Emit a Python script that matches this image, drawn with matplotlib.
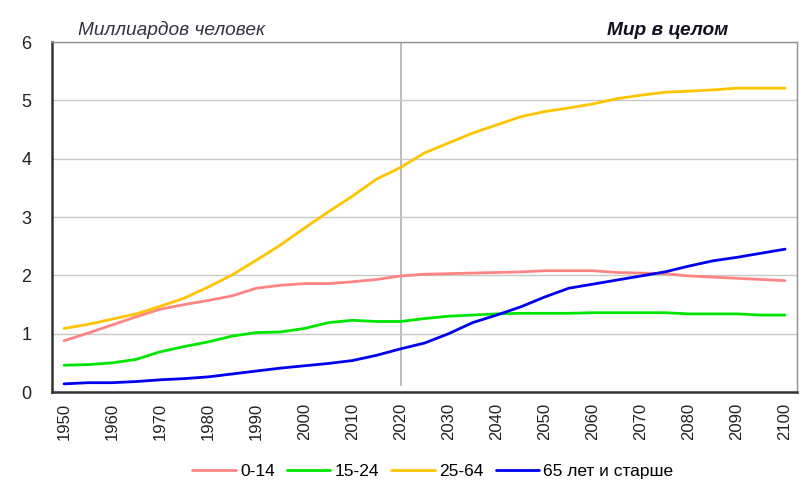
import numpy as np
import matplotlib.pyplot as plt

plt.rcParams['font.family'] = ['Liberation Sans', 'DejaVu Sans']

# ======================
# Data (billions of people)
# ======================
years = list(range(1950, 2101, 5))

age_0_14 = [0.88, 1.01, 1.15, 1.29, 1.42, 1.50, 1.57, 1.65, 1.78, 1.83,
            1.86, 1.86, 1.89, 1.93, 1.99, 2.02, 2.03, 2.04, 2.05, 2.06,
            2.08, 2.08, 2.08, 2.05, 2.04, 2.03, 1.99, 1.97, 1.95, 1.93, 1.91]
age_15_24 = [0.46, 0.47, 0.50, 0.56, 0.69, 0.78, 0.86, 0.96, 1.02, 1.03,
             1.09, 1.19, 1.23, 1.21, 1.21, 1.26, 1.30, 1.32, 1.34, 1.35,
             1.35, 1.35, 1.36, 1.36, 1.36, 1.36, 1.34, 1.34, 1.34, 1.32, 1.32]
age_25_64 = [1.09, 1.16, 1.25, 1.34, 1.47, 1.61, 1.80, 2.01, 2.26, 2.52,
             2.81, 3.09, 3.36, 3.65, 3.85, 4.10, 4.27, 4.44, 4.58, 4.72,
             4.81, 4.87, 4.94, 5.03, 5.09, 5.14, 5.16, 5.18, 5.21, 5.21, 5.21]
age_65_plus = [0.14, 0.16, 0.16, 0.18, 0.21, 0.23, 0.26, 0.31, 0.36, 0.41,
               0.45, 0.49, 0.54, 0.63, 0.74, 0.84, 1.00, 1.19, 1.32, 1.46,
               1.63, 1.78, 1.85, 1.92, 1.99, 2.06, 2.16, 2.25, 2.31, 2.38, 2.45]

series = [
    ("0-14", age_0_14, "#FF8585"),
    ("15-24", age_15_24, "#00E600"),
    ("25-64", age_25_64, "#FFC400"),
    ("65 лет и старше", age_65_plus, "#0000F0"),
]

# ======================
# Plot
# ======================
fig = plt.figure(figsize=(8.09, 4.84), dpi=100)
ax = fig.add_axes([0.0643, 0.19, 0.921, 0.723])

x = np.arange(len(years))
for label, values, color in series:
    ax.plot(x, values, color=color, lw=2.0, label=label, solid_capstyle="round")

# "today" marker
ax.axvline(years.index(2020), ymin=0.02, ymax=1, color="#b0b0b0", lw=1.2, zorder=0)

ax.set_xlim(-0.5, len(years) - 0.5)
ax.set_ylim(0, 6)
ax.set_yticks(range(0, 7))
ax.yaxis.grid(True, color="#c8c8c8", lw=1)
ax.set_axisbelow(True)

tick_idx = [i for i, y in enumerate(years) if y % 10 == 0]
ax.set_xticks(tick_idx)
ax.set_xticklabels([str(years[i]) for i in tick_idx], rotation=90)
ax.tick_params(axis="both", length=0, colors="#222222")
ax.tick_params(axis="x", pad=8, labelsize=12)
ax.tick_params(axis="y", pad=15, labelsize=13)

for side in ["left", "bottom"]:
    ax.spines[side].set_color("#333333")
    ax.spines[side].set_linewidth(1.8)
for side in ["top", "right"]:
    ax.spines[side].set_color("#909090")
    ax.spines[side].set_linewidth(1.0)

fig.text(0.096, 0.937, "Миллиардов человек", fontsize=13.8, style="italic",
         color="#333344", va="center")
fig.text(0.75, 0.937, "Мир в целом", fontsize=13.8, style="italic",
         fontweight="bold", color="#111122", va="center")

fig.legend(loc="lower center", bbox_to_anchor=(0.535, -0.022), ncol=4, frameon=False,
           fontsize=12.5, handlelength=2.5, handletextpad=0.25, columnspacing=0.7)

fig.savefig("out.png", dpi=100)
